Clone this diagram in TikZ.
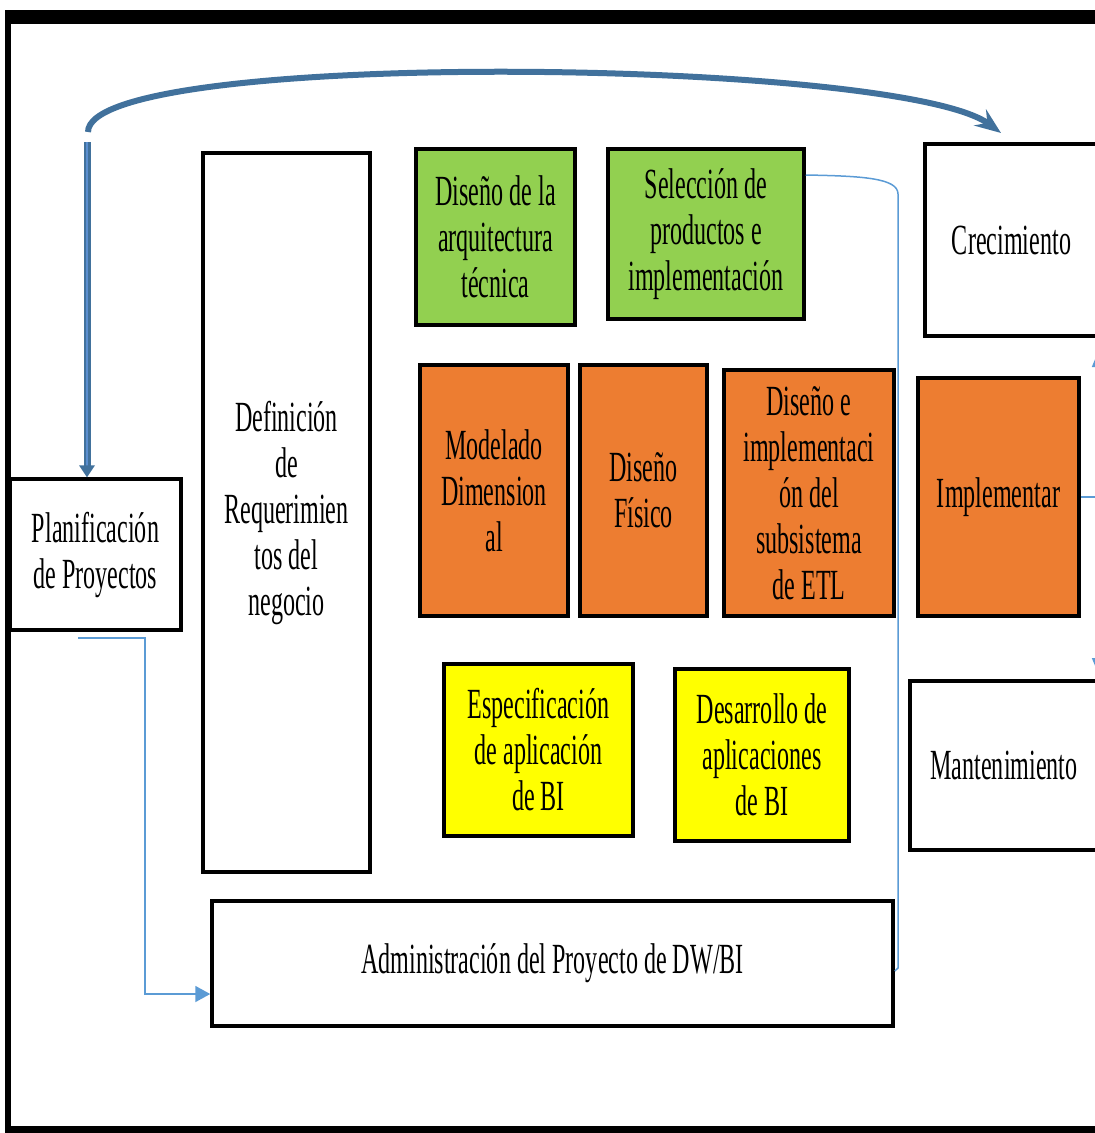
\documentclass[tikz,border=0pt]{standalone}
\usepackage{fontspec}
\setmainfont{Liberation Serif}[FakeStretch=0.56]
\usetikzlibrary{arrows.meta,calc}

\definecolor{boxgreen}{HTML}{92D050}
\definecolor{boxorange}{HTML}{ED7D31}
\definecolor{boxyellow}{HTML}{FFFF00}
\definecolor{loopblue}{HTML}{41719C}
\definecolor{loopblueL}{HTML}{5B8FD0}
\definecolor{linkblue}{HTML}{5B9BD5}

\tikzset{
  phase/.style={draw=black, line width=3.5pt, align=center, inner sep=0pt,
    font=\fontsize{43}{46}\selectfont},
  thinlink/.style={linkblue, line width=1.8pt},
  thicklink/.style={loopblue, line width=6pt},
}

\begin{document}
\begin{tikzpicture}[x=1pt,y=-1pt]
\useasboundingbox (0,0) rectangle (1095,1133);
\clip (0,0) rectangle (1095,1133);

% outer frame (its right side runs past the page edge)
\fill[black] (5,10) rectangle (1110,24);
\fill[black] (5,10) rectangle (11,1133);
\fill[black] (5,1126) rectangle (1110,1140);

% phases
\node[phase, fill=white, minimum width=171pt, minimum height=151pt] (plan) at (95.5,554.5)
  {Planificación\\de Proyectos};
\node[phase, fill=white, minimum width=167pt, minimum height=719pt] (def) at (286.5,512.5)
  {Definición\\de\\Requerimien\\tos del\\negocio};
\node[phase, fill=boxgreen, minimum width=159pt, minimum height=176pt] (arq) at (495.5,237)
  {Diseño de la\\arquitectura\\técnica};
\node[phase, fill=boxgreen, minimum width=196pt, minimum height=170pt] (sel) at (706,234)
  {Selección de\\productos e\\implementación};
\node[phase, fill=white, minimum width=173pt, minimum height=192pt] (crec) at (1011.5,240)
  {Crecimiento};
\node[phase, fill=boxorange, minimum width=148pt, minimum height=251pt] (mod) at (494,490.5)
  {Modelado\\Dimension\\al};
\node[phase, fill=boxorange, minimum width=127pt, minimum height=251pt] (fis) at (643.5,490.5)
  {Diseño\\Físico};
\node[phase, fill=boxorange, minimum width=170pt, minimum height=246pt] (etl) at (809,493)
  {Diseño e\\implementaci\\ón del\\subsistema\\de ETL};
\node[phase, fill=boxorange, minimum width=161pt, minimum height=238pt] (impl) at (998.5,497)
  {Implementar};
\node[phase, fill=boxyellow, minimum width=189pt, minimum height=172pt] (esp) at (538.5,750)
  {Especificación\\de aplicación\\de BI};
\node[phase, fill=boxyellow, minimum width=174pt, minimum height=172pt] (des) at (762,755)
  {Desarrollo de\\aplicaciones\\de BI};
\node[phase, fill=white, minimum width=188pt, minimum height=169pt] (mant) at (1004,765.5)
  {Mantenimiento};
\node[phase, fill=white, minimum width=681pt, minimum height=125pt] (adm) at (552.5,963.5)
  {Administración del Proyecto de DW/BI};

% free ends of the connectors
\coordinate (loopstart) at (88,132);
\coordinate (looptip) at (1001,133);
\coordinate (downstart) at (87,142);
\coordinate (planout) at (78,638);
\coordinate (admentry) at (145,994);
\coordinate (selout) at (0,175);
\coordinate (rightup) at (1101,345);
\coordinate (rightdown) at (1101,680);

% iteration loop over the top
\draw[thicklink, -{Stealth[length=26pt,width=20pt,inset=9pt]}]
  (loopstart) .. controls (88,48) and (900,58) .. (looptip);

% thick arrow down into project planning
\draw[loopblue, line width=7pt] (downstart) -- ($(downstart |- plan.north)+(0,-10)$);
\draw[loopblueL, line width=2.5pt] (downstart) -- ($(downstart |- plan.north)+(0,-10)$);
\fill[loopblue] ($(downstart |- plan.north)+(-8,-12)$) -- ($(downstart |- plan.north)+(8,-12)$)
  -- (downstart |- plan.north) -- cycle;

% planning to project management
\draw[thinlink, -{Triangle[length=15pt,width=16pt]}]
  (planout) -| (admentry) -- (adm.west |- admentry);

% product selection down to project management
\draw[thinlink, line width=1.5pt]
  (sel.east |- selout) .. controls (862,176) and (898,178) .. (898,194)
  -- (898,968) -- (adm.east |- 0,971);

% links on the right edge
\draw[thinlink, line width=1.5pt] (impl.east) -- ++(20,0);
\draw[thinlink, -{Triangle[length=22pt,width=18pt]}] ($(rightup)+(0,60)$) -- (rightup);
\draw[thinlink, -{Triangle[length=22pt,width=18pt]}] ($(rightdown)+(0,-60)$) -- (rightdown);
\end{tikzpicture}
\end{document}
